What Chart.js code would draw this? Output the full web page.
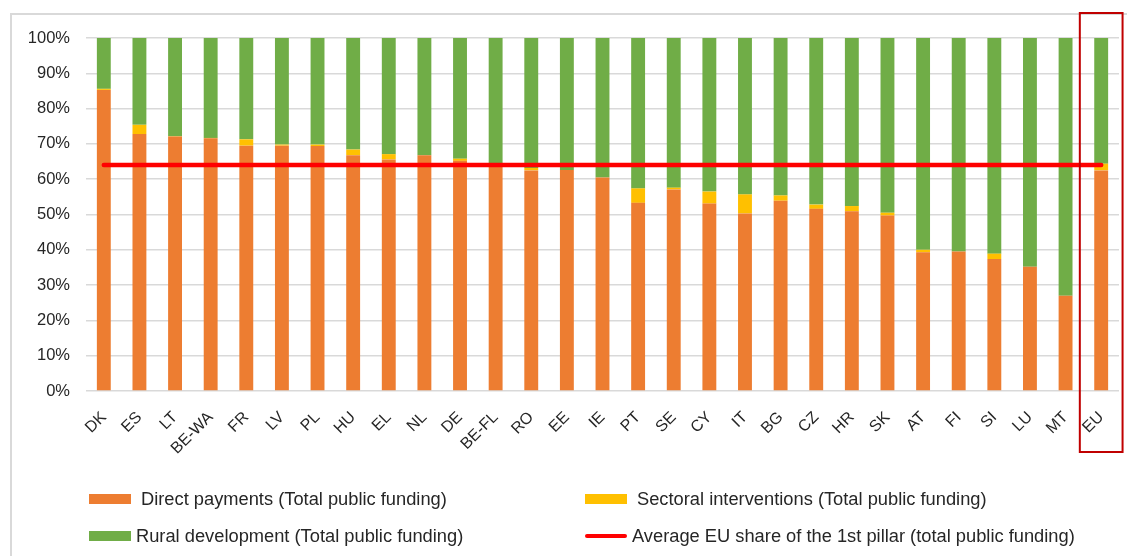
<!DOCTYPE html>
<html>
<head>
<meta charset="utf-8">
<script src="https://cdn.jsdelivr.net/npm/chart.js@4.4.1/dist/chart.umd.min.js"></script>
<style>
  html, body { margin: 0; padding: 0; background: #fff; }
  #wrap { position: relative; width: 1127px; height: 556px; overflow: hidden; }
  #frame { position: absolute; left: 10px; top: 13px; width: 1200px; height: 700px; border: 2px solid #d9d9d9; box-sizing: border-box; }
  canvas { position: absolute; left: 0; top: 0; }
  .lg { position: absolute; font-family: "Liberation Sans", Arial, sans-serif; font-size: 18.3px; color: #262626; white-space: nowrap; line-height: 20px; }
  .sw { position: absolute; }
</style>
</head>
<body>
<div id="wrap">
  <div id="frame"></div>
  <canvas id="c" width="1127" height="556"></canvas>
  <div id="legend"></div>
</div>
<script>
const categories = ["DK","ES","LT","BE-WA","FR","LV","PL","HU","EL","NL","DE","BE-FL","RO","EE","IE","PT","SE","CY","IT","BG","CZ","HR","SK","AT","FI","SI","LU","MT","EU"];
const directPayments = [85.3,72.8,72.1,71.6,69.5,69.5,69.4,66.8,65.6,66.8,65.2,63.8,62.5,62.6,60.5,53.3,57.1,53.1,50.3,53.9,51.6,50.9,49.7,39.3,39.5,37.4,35.2,27.0,62.5];
const sectoral = [0.3,2.6,0.1,0.1,1.8,0.3,0.4,1.6,1.5,0,0.6,0.2,0.7,0,0,4.1,0.5,3.4,5.4,1.5,1.2,1.5,0.8,0.7,0,1.5,0,0,1.9];
const ruralDevelopment = [14.4,24.6,27.8,28.3,28.7,30.2,30.2,31.6,32.9,33.2,34.2,36.0,36.8,37.4,39.5,42.6,42.4,43.5,44.3,44.6,47.2,47.6,49.5,60.0,60.5,61.1,64.8,73.0,35.6];
const avgEuShare = [64,64,64,64,64,64,64,64,64,64,64,64,64,64,64,64,64,64,64,64,64,64,64,64,64,64,64,64,64];
const yTicks = [0,10,20,30,40,50,60,70,80,90,100];
const highlightCategory = "EU";

const COLORS = { dp: "#ED7D31", sect: "#FFC000", rd: "#70AD47", avg: "#FF0000", box: "#C00000", grid: "#D9D9D9", text: "#262626" };

const highlightPlugin = {
  id: "highlight",
  afterDraw(chart) {
    const x = chart.scales.x;
    const i = categories.indexOf(highlightCategory);
    const cx = x.getPixelForValue(i);
    const cw = (x.right - x.left) / categories.length;
    const ctx = chart.ctx;
    ctx.save();
    ctx.strokeStyle = COLORS.box;
    ctx.lineWidth = 2;
    const left = cx - cw * 0.6, right = cx + cw * 0.6;
    const top = chart.chartArea.top - 25, bottom = chart.chartArea.bottom + 61;
    ctx.strokeRect(left, top, right - left, bottom - top);
    ctx.restore();
  }
};

const chart = new Chart(document.getElementById("c"), {
  data: {
    labels: categories,
    datasets: [
      { type: "line", label: "Average EU share of the 1st pillar (total public funding)", data: avgEuShare, borderColor: COLORS.avg, backgroundColor: COLORS.avg, borderWidth: 4.5, borderCapStyle: "round", pointRadius: 0, stack: "avg", order: 0 },
      { type: "bar", label: "Direct payments (Total public funding)", data: directPayments, backgroundColor: COLORS.dp, stack: "s", order: 1 },
      { type: "bar", label: "Sectoral interventions (Total public funding)", data: sectoral, backgroundColor: COLORS.sect, stack: "s", order: 1 },
      { type: "bar", label: "Rural development (Total public funding)", data: ruralDevelopment, backgroundColor: COLORS.rd, stack: "s", order: 1 }
    ]
  },
  options: {
    responsive: false,
    animation: false,
    devicePixelRatio: 1,
    datasets: { bar: { categoryPercentage: 1, barPercentage: 0.39 } },
    layout: { padding: { top: 38, right: 8, bottom: 65, left: 0 } },
    plugins: { legend: { display: false }, tooltip: { enabled: false } },
    scales: {
      x: {
        stacked: true,
        grid: { display: false },
        border: { display: false },
        ticks: { color: COLORS.text, font: { family: "Liberation Sans", size: 16 }, minRotation: 45, maxRotation: 45, padding: 9, autoSkip: false },
        afterFit(s) { s.height = 100; }
      },
      y: {
        stacked: true,
        min: 0, max: 100,
        afterBuildTicks(s) { s.ticks = yTicks.map(v => ({ value: v })); },
        grid: { color: COLORS.grid, lineWidth: 1.5, drawTicks: false },
        border: { display: false },
        ticks: { color: COLORS.text, font: { family: "Liberation Sans", size: 16.5 }, padding: 16, callback: v => v + "%" },
        afterFit(s) { s.width = 86; }
      }
    }
  },
  plugins: [highlightPlugin]
});

// HTML legend built from datasets (2 x 2 grid like the original)
const legendOrder = [
  { ds: 1, col: 0, row: 0 },
  { ds: 2, col: 1, row: 0 },
  { ds: 3, col: 0, row: 1 },
  { ds: 0, col: 1, row: 1 }
];
const colX = [89, 585], rowY = [499, 536];
const lg = document.getElementById("legend");
legendOrder.forEach(item => {
  const d = chart.data.datasets[item.ds];
  const sw = document.createElement("div");
  sw.className = "sw";
  const isLine = d.type === "line";
  sw.style.left = colX[item.col] + "px";
  sw.style.width = "42px";
  sw.style.top = (rowY[item.row] - (isLine ? 2 : 5)) + "px";
  sw.style.height = (isLine ? 4 : 10) + "px";
  sw.style.background = isLine ? d.borderColor : d.backgroundColor;
  if (isLine) sw.style.borderRadius = "2px";
  lg.appendChild(sw);
  const t = document.createElement("div");
  t.className = "lg";
  t.textContent = d.label;
  t.style.left = (colX[item.col] + (item.row === 0 ? 52 : 47)) + "px";
  t.style.top = (rowY[item.row] - 10) + "px";
  lg.appendChild(t);
});
</script>
</body>
</html>
